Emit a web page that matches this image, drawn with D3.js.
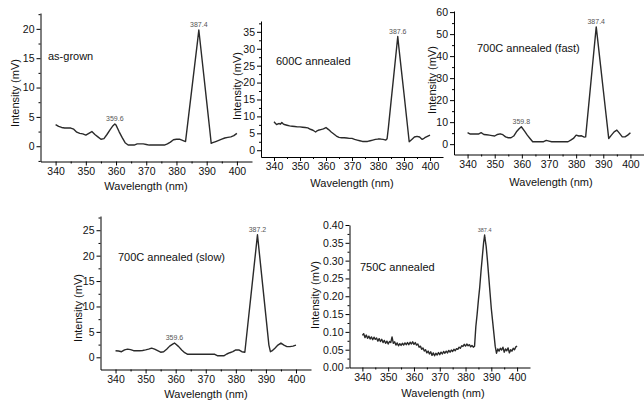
<!DOCTYPE html>
<html><head><meta charset="utf-8">
<script src="https://cdn.jsdelivr.net/npm/d3@7"></script>
<style>
body{margin:0;background:#fff;}
svg{display:block;font-family:"Liberation Sans",Arial,sans-serif;}
</style></head><body>
<svg id="c" width="644" height="403"></svg>
<script>
// ---------- data ----------
const xTicks = [340,350,360,370,380,390,400];
const xMinor = [335,345,355,365,375,385,395,405];
const sampleNames = ["as-grown","600C annealed","700C annealed (fast)","700C annealed (slow)","750C annealed"];

const asGrown = [[340,3.7],[341,3.4],[342,3.2],[343,3.1],[344,3.1],[345,3.1],[346,2.9],[347,2.4],[348,2.2],[349,2.1],[350,1.9],[351,2.2],[352,2.5],[353,2.0],[354,1.6],[355,1.2],[356,1.3],[357,2.0],[358,2.8],[359,3.5],[359.6,3.8],[360,3.6],[361,2.5],[362,1.5],[363,0.6],[364,0.2],[365,0.2],[366,0.2],[367,0.4],[368,0.4],[369,0.4],[370,0.3],[371,0.2],[372,0.2],[373,0.2],[374,0.2],[375,0.2],[376,0.2],[377,0.4],[378,0.7],[379,1.1],[380,1.2],[381,1.2],[382,1.0],[383,0.8],[384,5.1],[385,9.4],[386,13.7],[387,18],[387.4,19.8],[388,17],[389,12.3],[390,7.6],[391,2.9],[391.5,0.5],[392,0.6],[393,0.8],[394,1.0],[395,1.2],[396,1.4],[397,1.5],[398,1.6],[399,1.8],[400,2.2]];

const annealed600 = [[340,8.4],[340.5,8.0],[341,7.6],[341.5,7.8],[342,7.9],[342.5,7.7],[343,8.2],[343.5,7.8],[344,7.6],[345,7.4],[346,7.2],[347,7.1],[348,7.0],[349,6.9],[350,6.9],[351,6.8],[352,6.7],[353,6.6],[354,6.2],[355,5.9],[356,5.4],[356.5,5.7],[357,5.9],[358,6.1],[359,6.3],[360,6.7],[360.5,6.4],[361,6.1],[362,5.4],[363,4.8],[364,4.2],[365,3.8],[366,3.7],[367,3.7],[368,3.6],[369,3.5],[370,3.5],[371,3.2],[372,3.0],[373,2.8],[374,2.6],[375,2.6],[376,2.6],[377,2.8],[378,3.0],[379,3.2],[380,3.3],[381,3.3],[382,3.2],[383,3.0],[383.5,3.4],[384,6.7],[385,14.2],[386,21.6],[387,29.1],[387.6,33.6],[388,30.6],[389,23.6],[390,16.7],[391,9.6],[392,2.5],[393,3.2],[394,3.9],[395,4.1],[396,3.9],[397,3.2],[397.5,3.4],[398,3.7],[399,4.1],[400,4.5]];

const annealed700fast = [[340,5.2],[341,4.6],[342,4.6],[343,4.6],[344,4.6],[345,5.2],[346,4.4],[347,4.3],[348,4.1],[349,3.9],[350,3.7],[351,4.4],[352,4.7],[353,4.3],[354,3.3],[355,2.9],[356,2.9],[357,3.7],[358,5.6],[359,7.0],[359.8,7.9],[361,5.9],[362,4.1],[363,2.6],[364,1.1],[365,1.1],[366,1.1],[367,1.1],[368,1.1],[369,1.7],[370,1.4],[371,1.1],[372,1.1],[373,1.1],[374,1.1],[375,1.1],[376,1.1],[377,1.1],[378,1.8],[379,2.6],[380,4.1],[381,3.7],[382,3.8],[383,3.2],[383.5,3.3],[384,9.7],[385,22.5],[386,35.4],[387,48.2],[387.4,53.3],[388,46.7],[389,35.7],[390,24.6],[391,13.6],[392,2.6],[393,4.1],[394,5.6],[395,6.4],[396,4.9],[397,3.3],[398,3.3],[399,4.1],[400,5.2]];

const annealed700slow = [[340,1.3],[341,1.25],[342,1.1],[343,1.45],[344,1.6],[345,1.5],[346,1.3],[347,1.3],[348,1.3],[349,1.35],[350,1.45],[351,1.6],[352,1.8],[353,1.6],[354,1.3],[355,1.0],[356,1.1],[357,1.6],[358,2.2],[359,2.6],[359.6,2.8],[360,2.6],[361,2.1],[362,1.45],[363,0.9],[364,0.6],[365,0.6],[366,0.6],[367,0.6],[368,0.6],[369,0.6],[370,0.6],[371,0.6],[372,0.6],[373,0.6],[374,0.3],[375,0.3],[376,0.3],[377,0.65],[378,0.9],[379,1.1],[380,1.45],[381,1.45],[382,1.1],[383,1.0],[384,6.5],[385,12],[386,17.5],[387,23],[387.2,24.1],[388,19.5],[389,13.8],[390,8.1],[391,2.4],[391.5,1.1],[392,1.25],[393,1.8],[394,2.4],[395,2.8],[396,2.4],[397,2.1],[398,2.1],[399,2.2],[400,2.4]];

const annealed750 = [[340.0,0.090],[340.5,0.095],[341.0,0.084],[341.5,0.091],[342.0,0.082],[342.5,0.088],[343.0,0.080],[343.5,0.086],[344.0,0.078],[344.5,0.085],[345.0,0.079],[345.5,0.083],[346.0,0.074],[346.5,0.081],[347.0,0.073],[347.5,0.079],[348.0,0.070],[348.5,0.076],[349.0,0.068],[349.5,0.074],[350.0,0.066],[350.5,0.073],[351.0,0.070],[351.5,0.086],[352.0,0.068],[352.5,0.072],[353.0,0.063],[353.5,0.069],[354.0,0.061],[354.5,0.067],[355.0,0.062],[355.5,0.068],[356.0,0.063],[356.5,0.069],[357.0,0.064],[357.5,0.070],[358.0,0.064],[358.5,0.071],[359.0,0.066],[359.5,0.072],[360.0,0.065],[360.5,0.070],[361.0,0.063],[361.5,0.066],[362.0,0.057],[362.5,0.060],[363.0,0.051],[363.5,0.055],[364.0,0.046],[364.5,0.050],[365.0,0.041],[365.5,0.046],[366.0,0.038],[366.5,0.044],[367.0,0.034],[367.5,0.041],[368.0,0.033],[368.5,0.040],[369.0,0.035],[369.5,0.042],[370.0,0.036],[370.5,0.043],[371.0,0.038],[371.5,0.045],[372.0,0.040],[372.5,0.046],[373.0,0.041],[373.5,0.048],[374.0,0.043],[374.5,0.049],[375.0,0.045],[375.5,0.051],[376.0,0.047],[376.5,0.053],[377.0,0.051],[377.5,0.057],[378.0,0.054],[378.5,0.061],[379.0,0.059],[379.5,0.065],[380.0,0.060],[380.5,0.066],[381.0,0.061],[381.5,0.064],[382.0,0.058],[382.5,0.062],[383.0,0.057],[383.5,0.060],[384.0,0.115],[384.5,0.150],[385.0,0.190],[385.5,0.225],[386.0,0.270],[386.5,0.310],[387.0,0.350],[387.4,0.372],[387.5,0.365],[388.0,0.340],[388.5,0.300],[389.0,0.255],[389.5,0.210],[390.0,0.165],[390.5,0.130],[391.0,0.095],[391.5,0.060],[392.0,0.040],[392.5,0.052],[393.0,0.046],[393.5,0.054],[394.0,0.049],[394.5,0.057],[395.0,0.043],[395.5,0.052],[396.0,0.047],[396.5,0.055],[397.0,0.041],[397.5,0.050],[398.0,0.046],[398.5,0.054],[399.0,0.050],[399.5,0.058],[400.0,0.060]];

const yTicks1 = [0,5,10,15,20];
const yTicks2 = [0,5,10,15,20,25,30,35];
const yTicks3 = [0,10,20,30,40,50,60];
const yTicks4 = [0,5,10,15,20,25];
const yTicks5 = [0,0.05,0.10,0.15,0.20,0.25,0.30,0.35,0.40];

const peaks1 = [[359.6,3.8],[387.4,19.8]];
const peaks2 = [[387.6,33.6]];
const peaks3 = [[359.8,7.9],[387.4,53.3]];
const peaks4 = [[359.6,2.8],[387.2,24.1]];
const peaks5 = [[387.4,0.372]];

// ---------- layout ----------
const panels = [
  {data:asGrown, ticks:yTicks1, peaks:peaks1, yDom:[-2.6,22.7], fmt:"d", x0:40.5, x1:252, yb:161.5, yt:13, ytx:15, yty:93, wlx:146, wly:190, lx:48, ly:60, pfs:7},
  {data:annealed600, ticks:yTicks2, peaks:peaks2, yDom:[-2,38.2], fmt:"d", x0:261, x1:443, yb:157, yt:21, ytx:237, yty:86, wlx:352, wly:187, lx:276, ly:65, pfs:7},
  {data:annealed700fast, ticks:yTicks3, peaks:peaks3, yDom:[-4.7,60.5], fmt:"d", x0:454, x1:644, yb:154.5, yt:11, ytx:432, yty:80, wlx:551, wly:186, lx:477, ly:52, pfs:7},
  {data:annealed700slow, ticks:yTicks4, peaks:peaks4, yDom:[-2.4,27.8], fmt:"d", x0:100.5, x1:311, yb:369.5, yt:216, ytx:78, yty:308, wlx:206, wly:398, lx:118, ly:261, pfs:7},
  {data:annealed750, ticks:yTicks5, peaks:peaks5, yDom:[0,0.40], fmt:".2f", x0:349.5, x1:530, yb:367.5, yt:225, ytx:315, yty:295, wlx:443, wly:397, lx:360, ly:271, pfs:5.5}
];

const svg = d3.select("#c");

panels.forEach((p,i)=>{
  const g = svg.append("g");
  const x = d3.scaleLinear().domain([335,405]).range([p.x0,p.x1]);
  const y = d3.scaleLinear().domain(p.yDom).range([p.yb,p.yt]);

  // minor ticks
  const step = p.ticks[1]-p.ticks[0];
  const yMinor = p.ticks.map(t=>t+step/2).filter(v=>v<p.yDom[1]);
  if (p.yDom[0] < -step/2) yMinor.push(-step/2);
  g.append("g").attr("transform",`translate(${p.x0},0)`)
    .call(d3.axisLeft(y).tickValues(yMinor).tickSize(2).tickFormat(""))
    .call(a=>a.select(".domain").remove());
  g.append("g").attr("transform",`translate(0,${p.yb})`)
    .call(d3.axisBottom(x).tickValues(xMinor.filter(v=>v>335&&v<405)).tickSize(2).tickFormat(""))
    .call(a=>a.select(".domain").remove());

  // axes
  const xa = g.append("g").attr("transform",`translate(0,${p.yb})`)
    .call(d3.axisBottom(x).tickValues(xTicks).tickSize(4).tickSizeOuter(0).tickPadding(2).tickFormat(d3.format("d")));
  const ya = g.append("g").attr("transform",`translate(${p.x0},0)`)
    .call(d3.axisLeft(y).tickValues(p.ticks).tickSize(4).tickSizeOuter(0).tickPadding(2).tickFormat(d3.format(p.fmt)));
  [xa,ya].forEach(a=>{
    a.selectAll("text").attr("font-size",10.5).attr("fill","#111").attr("font-family","Liberation Sans, Arial, sans-serif");
    a.selectAll("line").attr("stroke","#000");
    a.select(".domain").attr("stroke","#000");
  });

  // line
  g.append("path").datum(p.data)
    .attr("fill","none").attr("stroke","#2a2a2a").attr("stroke-width",1.4).attr("stroke-linejoin","round")
    .attr("d", d3.line().x(d=>x(d[0])).y(d=>y(d[1])));

  // peak labels
  g.selectAll(".pk").data(p.peaks).enter().append("text")
    .attr("x",d=>x(d[0])).attr("y",d=>y(d[1])-3)
    .attr("text-anchor","middle").attr("font-size",p.pfs).attr("fill","#555")
    .text(d=>d[0].toFixed(1));

  // sample label
  g.append("text").attr("x",p.lx).attr("y",p.ly).attr("font-size",11).attr("fill","#111").text(sampleNames[i]);

  // axis titles
  g.append("text").attr("x",p.wlx).attr("y",p.wly).attr("text-anchor","middle").attr("font-size",11).attr("fill","#111").text("Wavelength (nm)");
  g.append("text").attr("transform",`translate(${p.ytx+4},${p.yty}) rotate(-90)`).attr("text-anchor","middle").attr("font-size",11).attr("fill","#111").text("Intensity (mV)");
});
</script>
</body></html>
